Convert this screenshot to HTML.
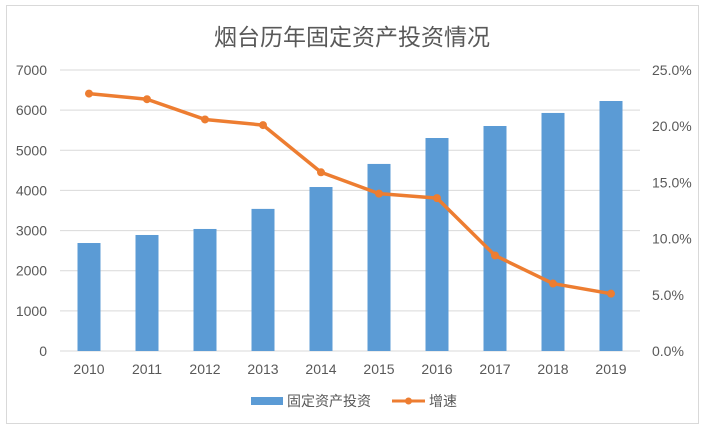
<!DOCTYPE html>
<html><head><meta charset="utf-8">
<style>
html,body{margin:0;padding:0;background:#fff;}
svg{display:block;}
text{font-family:"Liberation Sans","Noto Sans CJK SC",sans-serif;fill:#595959;}
</style></head>
<body>
<svg id="chart" width="706" height="430" viewBox="0 0 706 430">
<rect x="6.5" y="5.5" width="692" height="418" fill="#fff" stroke="#d9d9d9"/>
<text x="352" y="45" text-anchor="middle" font-size="23">烟台历年固定资产投资情况</text>
<g id="grid"></g>
<g id="bars"></g>
<g id="line"></g>
<g id="axes"></g>
<g>
<rect x="251" y="397" width="32" height="8" fill="#5b9bd5"/>
<text x="287" y="406" font-size="14">固定资产投资</text>
<line x1="392" y1="401" x2="425" y2="401" stroke="#ed7d31" stroke-width="3"/>
<circle cx="408.5" cy="401" r="3.5" fill="#ed7d31"/>
<text x="429" y="406" font-size="14">增速</text>
</g>
</svg>
<script>
const categories = ["2010","2011","2012","2013","2014","2015","2016","2017","2018","2019"];
const investment = [2690, 2890, 3040, 3540, 4085, 4660, 5306, 5605, 5930, 6228];
const growth = [22.9, 22.4, 20.6, 20.1, 15.9, 14.0, 13.6, 8.5, 6.0, 5.1];
const leftTicks = [0,1000,2000,3000,4000,5000,6000,7000];
const rightTicks = [0,5,10,15,20,25];

const NS="http://www.w3.org/2000/svg";
const X0=60, X1=640, Y0=351, Y1=70;
const step=(X1-X0)/categories.length;
function xPos(i){return X0+step*(i+0.5);}
function yLeft(v){return Y0-(v/7000)*(Y0-Y1);}
function yRight(v){return Y0-(v/25)*(Y0-Y1);}
function mk(tag,attrs,parent){const e=document.createElementNS(NS,tag);for(const k in attrs)e.setAttribute(k,attrs[k]);parent.appendChild(e);return e;}

const grid=document.getElementById('grid'), axes=document.getElementById('axes');
leftTicks.forEach(t=>{
  const y=yLeft(t);
  const l=mk('line',{x1:X0,x2:X1,y1:y,y2:y,stroke:t===0?'#d9d9d9':'#d9d9d9','stroke-width':1},grid);
  
  
  const tx=mk('text',{x:47,y:y+5,'text-anchor':'end','font-size':14},axes);
  tx.textContent=t;
  
  
});
rightTicks.forEach(t=>{
  const tx=mk('text',{x:652,y:yRight(t)+5,'font-size':14},axes);
  tx.textContent=t.toFixed(1)+'%';
  
  
});
categories.forEach((c,i)=>{
  const tx=mk('text',{x:xPos(i),y:374,'text-anchor':'middle','font-size':14},axes);
  tx.textContent=c;
  
  
});
const bars=document.getElementById('bars');
investment.forEach((v,i)=>{
  const y=yLeft(v);
  const r=mk('rect',{x:xPos(i)-11.5,y:y,width:23,height:Y0-y,fill:'#5b9bd5'},bars);
  
  
});
const lg=document.getElementById('line');
const pts=growth.map((v,i)=>xPos(i)+','+yRight(v)).join(' ');
const pl=mk('polyline',{points:pts,fill:'none',stroke:'#ed7d31','stroke-width':3.5,'stroke-linejoin':'round'},lg);


growth.forEach((v,i)=>{
  const c=mk('circle',{cx:xPos(i),cy:yRight(v),r:4,fill:'#ed7d31'},lg);
  
  
});
</script>
</body></html>
